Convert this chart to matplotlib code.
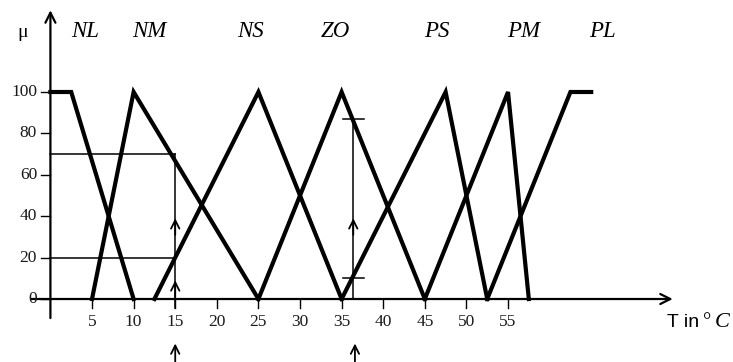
"""
Fuzzy membership functions for temperature (NL ... PL) with two inputs.
"""

import matplotlib

matplotlib.use("Agg")
import matplotlib.pyplot as plt

# --- membership functions (T in degC, mu in %) ---
nl_x = [0, 2.5, 10]
nl_y = [100, 100, 0]
nm_x = [5, 10, 25]
nm_y = [0, 100, 0]
ns_x = [12.5, 25, 35]
ns_y = [0, 100, 0]
zo_x = [25, 35, 45]
zo_y = [0, 100, 0]
ps_x = [35, 47.5, 52.5]
ps_y = [0, 100, 0]
pm_x = [45, 55, 57.5]
pm_y = [0, 100, 0]
pl_x = [52.5, 62.5, 65]
pl_y = [0, 100, 100]

set_names = ["NL", "NM", "NS", "ZO", "PS", "PM", "PL"]
name_x = [4.2, 11.9, 24.1, 34.2, 46.5, 56.9, 66.3]

x_ticks = [5, 10, 15, 20, 25, 30, 35, 40, 45, 50, 55]
y_ticks = [0, 20, 40, 60, 80, 100]

# first input: T = 15 -> NM 70, NS 20
in1_t = 15
in1_levels = [70, 20]
in1_arrows = [39, 9]
# second input: T ~ 36.4 -> ZO 87, PS 10
in2_t = 36.4
in2_levels = [87, 10]
in2_arrows = [39]

SERIF = "Liberation Serif"

fig = plt.figure(figsize=(7.33, 3.62), dpi=100)
ax = fig.add_axes([0, 0, 1, 1])
ax.set_xlim(-6.06, 82.04)
ax.set_ylim(-30.43, 144.44)
ax.axis("off")

# axes with arrows
arrow = dict(arrowstyle="->", lw=1.6, color="black", mutation_scale=18, shrinkA=0, shrinkB=0)
ax.annotate("", xy=(74.8, 0), xytext=(-2.3, 0), arrowprops=arrow)
ax.annotate("", xy=(0, 139.5), xytext=(0, -9.2), arrowprops=arrow)

for t in x_ticks:
    ax.plot([t, t], [0, -4.3], color="black", lw=1.0)
    ax.text(t, -11.2, str(t), ha="center", va="center", fontsize=12.5, family=SERIF, color="#1a1a1a")
for v in y_ticks:
    ax.plot([-1.1, 0], [v, v], color="black", lw=1.0)
    ax.text(-1.6, v, str(v), ha="right", va="center", fontsize=12.5, family=SERIF, color="#1a1a1a")

ax.text(-3.3, 128.5, "μ", ha="center", va="center", fontsize=14, family=SERIF)
ax.text(74.1, -13.4, "T in", ha="left", va="baseline", fontsize=14, family="Liberation Sans")
ax.text(78.45, -13.4, "°", ha="left", va="baseline", fontsize=15, family=SERIF)
ax.text(79.8, -13.4, "C", ha="left", va="baseline", fontsize=16, family=SERIF, style="italic")

# membership functions
for xs, ys in [(nl_x, nl_y), (nm_x, nm_y), (ns_x, ns_y), (zo_x, zo_y),
               (ps_x, ps_y), (pm_x, pm_y), (pl_x, pl_y)]:
    ax.plot(xs, ys, color="black", lw=3.0, solid_joinstyle="miter", zorder=3)

for name, x in zip(set_names, name_x):
    ax.text(x, 129, name, ha="center", va="center", fontsize=16.5, family=SERIF, style="italic")

# input 1
thin = dict(color="black", lw=1.1, zorder=2)
for lvl in in1_levels:
    ax.plot([0, in1_t], [lvl, lvl], **thin)
ax.plot([in1_t, in1_t], [-4.3, max(in1_levels)], **thin)
small = dict(arrowstyle="->", lw=1.3, color="black", mutation_scale=15, shrinkA=0, shrinkB=0)
for a in in1_arrows:
    ax.annotate("", xy=(in1_t, a), xytext=(in1_t, a - 8), arrowprops=small)

# input 2
ax.plot([in2_t, in2_t], [0, max(in2_levels)], **thin)
for lvl in in2_levels:
    ax.plot([in2_t - 1.25, in2_t + 1.25], [lvl, lvl], **thin)
for a in in2_arrows:
    ax.annotate("", xy=(in2_t, a), xytext=(in2_t, a - 8), arrowprops=small)

# input markers below the axis
for t in [in1_t, in2_t + 0.2]:
    ax.annotate("", xy=(t, -21.5), xytext=(t, -30.4), arrowprops=small)

fig.savefig("out.png", dpi=100)
